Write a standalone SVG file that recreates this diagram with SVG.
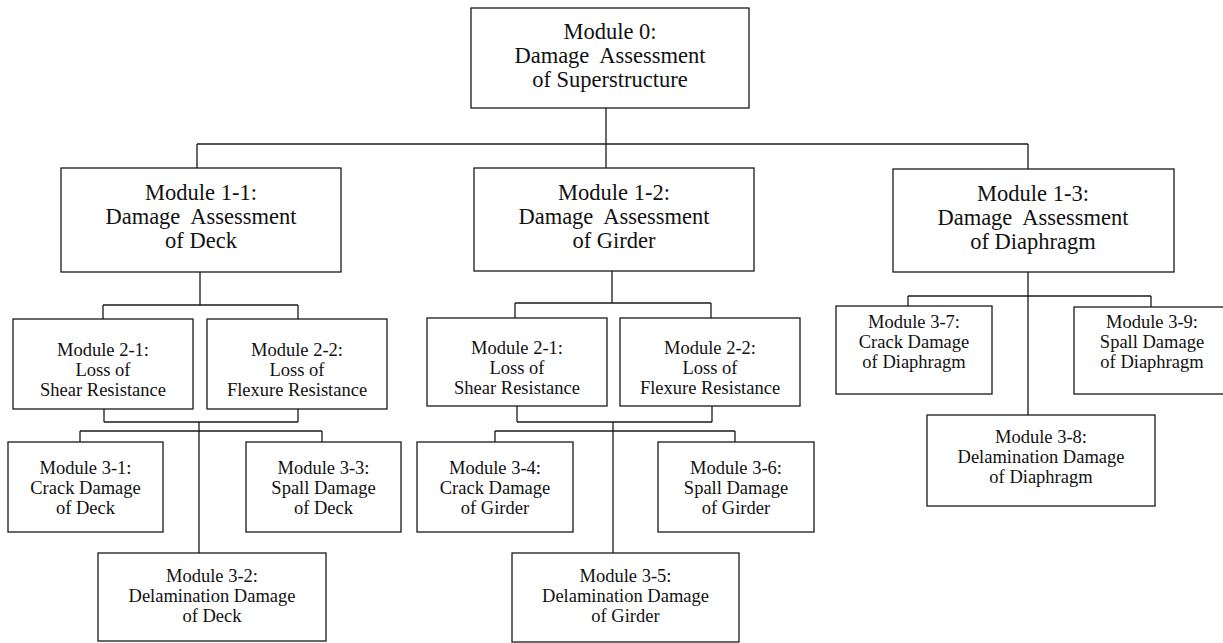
<svg xmlns="http://www.w3.org/2000/svg" width="1223" height="643" viewBox="0 0 1223 643">
<style>
rect{fill:#fff;stroke:#1a1a1a;stroke-width:1.3}
.c line{stroke:#1a1a1a;stroke-width:1.3}
text{font-family:"Liberation Serif","Times New Roman",serif;fill:#111;text-anchor:middle}
.L{font-size:22.5px}
.S{font-size:18.5px}
</style>
<rect x="0" y="0" width="1223" height="643" style="stroke:none"/>
<g class="c" id="connectors">
<line x1="606" y1="108" x2="606" y2="168"/>
<line x1="197" y1="144" x2="1028" y2="144"/>
<line x1="197" y1="144" x2="197" y2="168"/>
<line x1="1028" y1="144" x2="1028" y2="169"/>
<line x1="200" y1="272" x2="200" y2="305"/>
<line x1="103" y1="305" x2="298" y2="305"/>
<line x1="103" y1="305" x2="103" y2="319"/>
<line x1="298" y1="305" x2="298" y2="319"/>
<line x1="612" y1="271" x2="612" y2="303"/>
<line x1="515" y1="303" x2="711" y2="303"/>
<line x1="515" y1="303" x2="515" y2="318"/>
<line x1="711" y1="303" x2="711" y2="318"/>
<line x1="1028" y1="272" x2="1028" y2="415"/>
<line x1="908" y1="296" x2="1151" y2="296"/>
<line x1="908" y1="296" x2="908" y2="306"/>
<line x1="1151" y1="296" x2="1151" y2="307"/>
<line x1="104" y1="409" x2="104" y2="422"/>
<line x1="298" y1="409" x2="298" y2="422"/>
<line x1="104" y1="422" x2="298" y2="422"/>
<line x1="199" y1="422" x2="199" y2="553"/>
<line x1="80" y1="431" x2="322" y2="431"/>
<line x1="80" y1="431" x2="80" y2="442"/>
<line x1="322" y1="431" x2="322" y2="442"/>
<line x1="517" y1="406" x2="517" y2="422"/>
<line x1="712" y1="406" x2="712" y2="422"/>
<line x1="517" y1="422" x2="712" y2="422"/>
<line x1="613" y1="422" x2="613" y2="553"/>
<line x1="495" y1="431" x2="735" y2="431"/>
<line x1="495" y1="431" x2="495" y2="442"/>
<line x1="735" y1="431" x2="735" y2="442"/>
</g>
<g id="m0"><rect x="471" y="8" width="278" height="100"/>
<text class="L"><tspan x="610" y="39">Module 0:</tspan><tspan x="610" y="63">Damage&#160; Assessment</tspan><tspan x="610" y="87">of Superstructure</tspan></text></g>
<g id="m1-1"><rect x="61" y="168" width="280" height="104"/>
<text class="L"><tspan x="201" y="200">Module 1-1:</tspan><tspan x="201" y="224">Damage&#160; Assessment</tspan><tspan x="201" y="248">of Deck</tspan></text></g>
<g id="m1-2"><rect x="474" y="168" width="280" height="103"/>
<text class="L"><tspan x="614" y="200">Module 1-2:</tspan><tspan x="614" y="224">Damage&#160; Assessment</tspan><tspan x="614" y="248">of Girder</tspan></text></g>
<g id="m1-3"><rect x="893" y="169" width="281" height="103"/>
<text class="L"><tspan x="1033" y="201">Module 1-3:</tspan><tspan x="1033" y="225">Damage&#160; Assessment</tspan><tspan x="1033" y="249">of Diaphragm</tspan></text></g>
<g id="m2-1d"><rect x="13" y="319" width="180" height="90"/>
<text class="S"><tspan x="103" y="356">Module 2-1:</tspan><tspan x="103" y="376">Loss of</tspan><tspan x="103" y="396">Shear Resistance</tspan></text></g>
<g id="m2-2d"><rect x="207" y="319" width="180" height="90"/>
<text class="S"><tspan x="297" y="356">Module 2-2:</tspan><tspan x="297" y="376">Loss of</tspan><tspan x="297" y="396">Flexure Resistance</tspan></text></g>
<g id="m2-1g"><rect x="427" y="318" width="180" height="88"/>
<text class="S"><tspan x="517" y="354">Module 2-1:</tspan><tspan x="517" y="374">Loss of</tspan><tspan x="517" y="394">Shear Resistance</tspan></text></g>
<g id="m2-2g"><rect x="620" y="318" width="180" height="88"/>
<text class="S"><tspan x="710" y="354">Module 2-2:</tspan><tspan x="710" y="374">Loss of</tspan><tspan x="710" y="394">Flexure Resistance</tspan></text></g>
<g id="m3-1"><rect x="8" y="442" width="155" height="90"/>
<text class="S"><tspan x="85.5" y="474">Module 3-1:</tspan><tspan x="85.5" y="494">Crack Damage</tspan><tspan x="85.5" y="514">of Deck</tspan></text></g>
<g id="m3-3"><rect x="246" y="442" width="155" height="90"/>
<text class="S"><tspan x="323.5" y="474">Module 3-3:</tspan><tspan x="323.5" y="494">Spall Damage</tspan><tspan x="323.5" y="514">of Deck</tspan></text></g>
<g id="m3-2"><rect x="98" y="553" width="228" height="88"/>
<text class="S"><tspan x="212" y="582">Module 3-2:</tspan><tspan x="212" y="602">Delamination Damage</tspan><tspan x="212" y="622">of Deck</tspan></text></g>
<g id="m3-4"><rect x="417" y="442" width="156" height="90"/>
<text class="S"><tspan x="495" y="474">Module 3-4:</tspan><tspan x="495" y="494">Crack Damage</tspan><tspan x="495" y="514">of Girder</tspan></text></g>
<g id="m3-6"><rect x="658" y="442" width="156" height="90"/>
<text class="S"><tspan x="736" y="474">Module 3-6:</tspan><tspan x="736" y="494">Spall Damage</tspan><tspan x="736" y="514">of Girder</tspan></text></g>
<g id="m3-5"><rect x="512" y="553" width="227" height="89"/>
<text class="S"><tspan x="625.5" y="582">Module 3-5:</tspan><tspan x="625.5" y="602">Delamination Damage</tspan><tspan x="625.5" y="622">of Girder</tspan></text></g>
<g id="m3-7"><rect x="836" y="306" width="156" height="88"/>
<text class="S"><tspan x="914" y="328">Module 3-7:</tspan><tspan x="914" y="348">Crack Damage</tspan><tspan x="914" y="368">of Diaphragm</tspan></text></g>
<g id="m3-9"><rect x="1074" y="307" width="156" height="87"/>
<text class="S"><tspan x="1152" y="328">Module 3-9:</tspan><tspan x="1152" y="348">Spall Damage</tspan><tspan x="1152" y="368">of Diaphragm</tspan></text></g>
<g id="m3-8"><rect x="927" y="415" width="228" height="91"/>
<text class="S"><tspan x="1041" y="443">Module 3-8:</tspan><tspan x="1041" y="463">Delamination Damage</tspan><tspan x="1041" y="483">of Diaphragm</tspan></text></g>
</svg>
